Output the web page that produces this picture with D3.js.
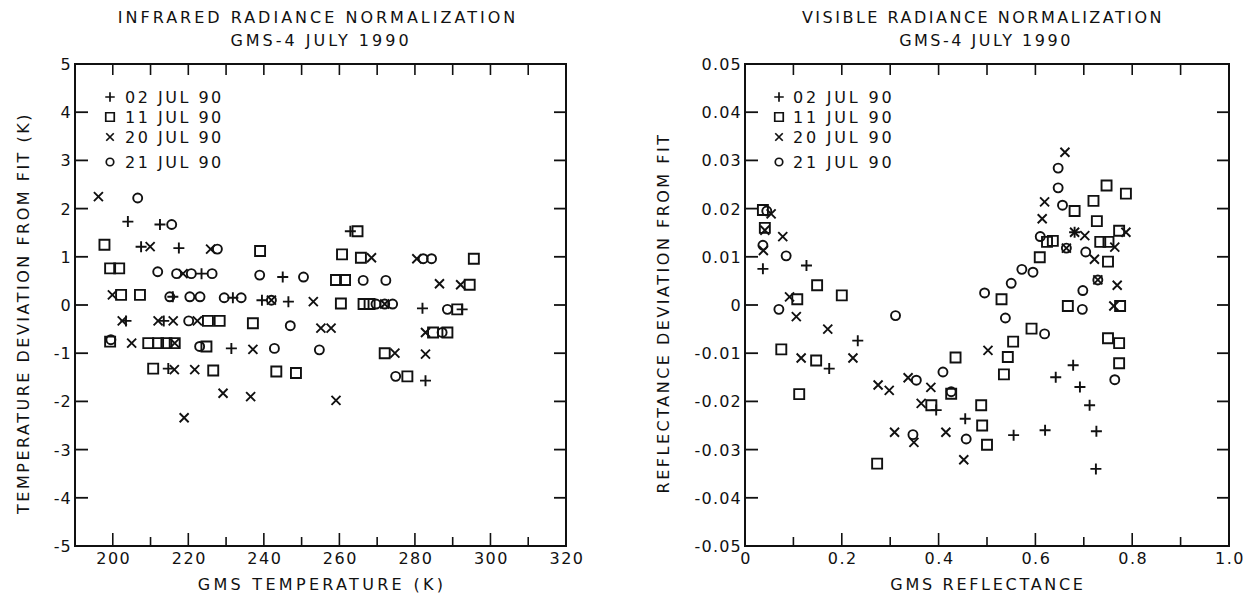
<!DOCTYPE html>
<html>
<head>
<meta charset="utf-8">
<script src="https://cdn.jsdelivr.net/npm/d3@7"></script>
<style>
  body { margin: 0; background: #fff; }
  svg text { font-family: "DejaVu Sans", sans-serif; fill: #111; }
</style>
</head>
<body>
<svg id="chart" width="1244" height="596"></svg>
<script>
// legend entries and their marker
var dates = ['02 JUL 90', '11 JUL 90', '20 JUL 90', '21 JUL 90']
var markers = ['plus', 'square', 'cross', 'circle']

// infrared: [GMS temperature (K), temperature deviation from fit (K)]
var ir_02jul = [[204.0,1.73],[212.5,1.67],[207.5,1.21],[217.5,1.18],[223.5,0.65],[215.9,0.17],[231.8,0.15],
  [239.5,0.10],[246.5,0.07],[203.5,-0.33],[213.5,-0.33],[231.4,-0.90],[214.7,-1.32],[245.0,0.58],
  [262.9,1.53],[282.0,-0.07],[292.5,-0.09],[282.8,-1.57]]
var ir_11jul = [[197.8,1.25],[239.0,1.12],[199.3,0.76],[201.7,0.76],[202.2,0.21],[207.2,0.21],[225.2,-0.33],
  [228.3,-0.33],[237.1,-0.38],[199.3,-0.76],[209.4,-0.79],[212.0,-0.79],[214.2,-0.79],[216.4,-0.79],
  [224.8,-0.86],[210.7,-1.32],[226.6,-1.36],[264.8,1.53],[260.7,1.05],[265.7,0.98],[259.1,0.52],
  [261.5,0.52],[260.4,0.03],[266.4,0.02],[268.0,0.02],[272.0,-1.00],[243.3,-1.38],[248.5,-1.41],
  [278.0,-1.48],[295.6,0.96],[294.5,0.42],[291.2,-0.09],[284.8,-0.57],[288.6,-0.57]]
var ir_20jul = [[196.2,2.25],[209.9,1.21],[225.9,1.16],[218.6,0.65],[199.9,0.21],[242.0,0.10],[202.5,-0.33],
  [212.0,-0.33],[216.0,-0.33],[222.4,-0.33],[205.0,-0.79],[216.4,-0.79],[237.1,-0.92],[216.3,-1.34],
  [221.7,-1.34],[229.2,-1.83],[236.5,-1.90],[218.9,-2.34],[268.5,0.98],[253.1,0.07],[272.0,0.02],
  [255.1,-0.48],[257.8,-0.48],[274.7,-1.00],[259.1,-1.98],[280.5,0.96],[286.5,0.44],[292.1,0.42],
  [282.8,-0.57],[282.8,-1.02]]
var ir_21jul = [[206.6,2.22],[215.6,1.67],[227.7,1.16],[211.9,0.69],[216.9,0.65],[220.8,0.65],[226.3,0.65],
  [238.9,0.62],[215.1,0.17],[220.4,0.17],[223.1,0.17],[229.5,0.15],[234.0,0.15],[242.0,0.10],
  [220.1,-0.33],[199.5,-0.72],[223.0,-0.86],[242.8,-0.90],[250.5,0.58],[266.3,0.51],[272.3,0.51],
  [269.7,0.02],[272.0,0.02],[274.1,0.02],[247.0,-0.43],[254.7,-0.93],[274.9,-1.48],[282.2,0.96],
  [284.4,0.96],[288.6,-0.09],[287.2,-0.57]]

// visible: [GMS reflectance, reflectance deviation from fit]
var vis_02jul = [[0.037,0.0075],[0.127,0.0082],[0.233,-0.0074],[0.174,-0.0132],[0.395,-0.0218],
  [0.455,-0.0236],[0.678,-0.0125],[0.642,-0.0150],[0.692,-0.0170],[0.712,-0.0208],[0.726,-0.0262],
  [0.681,0.0151],[0.555,-0.0270],[0.620,-0.0260],[0.725,-0.0340]]
var vis_11jul = [[0.037,0.0197],[0.041,0.0160],[0.149,0.0041],[0.108,0.0012],[0.075,-0.0092],
  [0.147,-0.0115],[0.112,-0.0185],[0.200,0.0020],[0.435,-0.0109],[0.426,-0.0184],[0.385,-0.0208],
  [0.488,-0.0208],[0.490,-0.0250],[0.500,-0.0290],[0.273,-0.0329],[0.747,0.0248],[0.720,0.0216],
  [0.681,0.0195],[0.727,0.0174],[0.624,0.0131],[0.636,0.0133],[0.734,0.0131],[0.751,0.0131],
  [0.750,0.0090],[0.609,0.0099],[0.530,0.0012],[0.667,-0.0002],[0.592,-0.0049],[0.554,-0.0076],
  [0.750,-0.0069],[0.543,-0.0108],[0.535,-0.0144],[0.787,0.0231],[0.773,0.0154],[0.775,-0.0002],
  [0.773,-0.0079],[0.773,-0.0121]]
var vis_20jul = [[0.054,0.0189],[0.041,0.0155],[0.078,0.0142],[0.038,0.0113],[0.092,0.0017],
  [0.106,-0.0024],[0.116,-0.0110],[0.171,-0.0050],[0.223,-0.0110],[0.275,-0.0166],[0.298,-0.0177],
  [0.337,-0.0151],[0.384,-0.0171],[0.364,-0.0204],[0.309,-0.0264],[0.349,-0.0285],[0.415,-0.0264],
  [0.452,-0.0321],[0.661,0.0317],[0.619,0.0214],[0.614,0.0179],[0.681,0.0151],[0.702,0.0144],
  [0.664,0.0118],[0.722,0.0095],[0.729,0.0052],[0.502,-0.0094],[0.787,0.0151],[0.764,0.0120],
  [0.769,0.0041],[0.762,-0.0002]]
var vis_21jul = [[0.045,0.0195],[0.037,0.0124],[0.085,0.0102],[0.070,-0.0009],[0.311,-0.0022],
  [0.354,-0.0156],[0.409,-0.0139],[0.426,-0.0180],[0.347,-0.0269],[0.457,-0.0278],[0.647,0.0284],
  [0.647,0.0243],[0.656,0.0207],[0.610,0.0142],[0.664,0.0118],[0.704,0.0110],[0.572,0.0074],
  [0.595,0.0068],[0.550,0.0045],[0.495,0.0025],[0.729,0.0052],[0.698,0.0030],[0.697,-0.0009],
  [0.538,-0.0027],[0.619,-0.0060],[0.764,-0.0155]]

// ticks
var ir_x_labels = [200, 220, 240, 260, 280, 300, 320]
var ir_x_minor = [190, 200, 210, 220, 230, 240, 250, 260, 270, 280, 290, 300, 310, 320]
var ir_y_labels = [5, 4, 3, 2, 1, 0, -1, -2, -3, -4, -5]
var vis_x_labels = ['0', '0.2', '0.4', '0.6', '0.8', '1.0']
var vis_x_minor = [0, 0.1, 0.2, 0.3, 0.4, 0.5, 0.6, 0.7, 0.8, 0.9, 1.0]
var vis_y_labels = ['0.05', '0.04', '0.03', '0.02', '0.01', '0', '-0.01', '-0.02', '-0.03', '-0.04', '-0.05']

var svg = d3.select('#chart')

function markerPath(type, s) {
  var h = s / 2
  if (type == 'plus') return `M${-h},0H${h}M0,${-h}V${h}`
  if (type == 'cross') return `M${-h},${-h}L${h},${h}M${-h},${h}L${h},${-h}`
  if (type == 'square') return `M${-h},${-h}H${h}V${h}H${-h}Z`
  return `M${h},0A${h},${h} 0 1,1 ${-h},0A${h},${h} 0 1,1 ${h},0`
}
var markerSize = {plus: 11, cross: 9, square: 10, circle: 9}

function label(sel, size, spacing) {
  return sel.style('font-size', size + 'px').style('letter-spacing', spacing + 'px')
}

function renderPlot(p) {
  var x_scale = d3.scaleLinear().domain(p.xDomain).range([p.left, p.right])
  var y_scale = d3.scaleLinear().domain(p.yDomain).range([p.bottom, p.top])
  var g = svg.append('g')

  //titles
  label(g.append('text').attr('x', p.titleX).attr('y', 23).attr('text-anchor', 'middle'), 16, p.titleSpacing)
    .text(p.title)
  label(g.append('text').attr('x', p.titleX + 3).attr('y', 46).attr('text-anchor', 'middle'), 16, p.titleSpacing)
    .text('GMS-4 JULY 1990')

  //frame
  g.append('rect').attr('x', p.left).attr('y', p.top)
    .attr('width', p.right - p.left).attr('height', p.bottom - p.top)
    .attr('fill', 'none').attr('stroke', '#111').attr('stroke-width', 2)

  //x ticks top and bottom
  g.selectAll('.xt').data(p.xMinor).join('line').attr('class', 'xt')
    .attr('x1', d => x_scale(d)).attr('x2', d => x_scale(d))
    .attr('y1', p.bottom).attr('y2', (d, i) => p.bottom - (i % 2 == p.majorParity ? 13 : 9))
    .attr('stroke', '#111').attr('stroke-width', 1.6)
  g.selectAll('.xtt').data(p.xMinor).join('line').attr('class', 'xtt')
    .attr('x1', d => x_scale(d)).attr('x2', d => x_scale(d))
    .attr('y1', p.top).attr('y2', p.top + 11)
    .attr('stroke', '#111').attr('stroke-width', 1.6)

  //y ticks left and right
  var yTickVals = d3.range(p.yLabels.length).map(i => p.yDomain[1] - i * (p.yDomain[1] - p.yDomain[0]) / (p.yLabels.length - 1))
  g.selectAll('.yt').data(yTickVals).join('line').attr('class', 'yt')
    .attr('x1', p.left).attr('x2', p.left + 13)
    .attr('y1', d => y_scale(d)).attr('y2', d => y_scale(d))
    .attr('stroke', '#111').attr('stroke-width', 1.8)
  g.selectAll('.ytr').data(yTickVals).join('line').attr('class', 'ytr')
    .attr('x1', p.right).attr('x2', p.right - 12)
    .attr('y1', d => y_scale(d)).attr('y2', d => y_scale(d))
    .attr('stroke', '#111').attr('stroke-width', 1.8)

  //tick labels
  label(g.selectAll('.yl').data(p.yLabels).join('text').attr('class', 'yl')
    .attr('x', p.left - 3).attr('y', (d, i) => y_scale(yTickVals[i]) + 6)
    .attr('text-anchor', 'end'), 16, 1.2).text(d => d)
  label(g.selectAll('.xl').data(p.xLabels).join('text').attr('class', 'xl')
    .attr('x', (d, i) => x_scale(p.xLabelVals[i]) + 1).attr('y', p.bottom + 18)
    .attr('text-anchor', 'middle'), 16, 1.5).text(d => d)

  //axis titles
  label(g.append('text').attr('x', p.xTitleX).attr('y', 590).attr('text-anchor', 'middle'), 16, p.xTitleSpacing)
    .text(p.xTitle)
  label(g.append('text').attr('transform', `translate(${p.yTitleX},${(p.top + p.bottom) / 2 + 8}) rotate(-90)`)
    .attr('text-anchor', 'middle'), 16, 2.5).text(p.yTitle)

  //points
  p.series.forEach((data, k) => {
    g.selectAll('.pt' + k).data(data).join('path').attr('class', 'pt' + k)
      .attr('transform', d => `translate(${x_scale(d[0])},${y_scale(d[1])})`)
      .attr('d', markerPath(markers[k], markerSize[markers[k]]))
      .attr('fill', 'none').attr('stroke', '#111').attr('stroke-width', 1.9)
  })

  //legend
  var legend = g.selectAll('.legend').data(dates).join('g').attr('class', 'legend')
    .attr('transform', (d, i) => `translate(${p.left + p.legendDx}, ${97 + i * 20 + (i == 3 ? 5 : 0)})`)
  legend.append('path').attr('d', (d, i) => markerPath(markers[i], markerSize[markers[i]] - 1.5))
    .attr('fill', 'none').attr('stroke', '#111').attr('stroke-width', 1.7)
  label(legend.append('text').attr('x', p.legendText).attr('y', 6), 16, p.legendSpacing).text(d => d)
}

renderPlot({
  left: 75, right: 566, top: 64, bottom: 546,
  xDomain: [190, 320], yDomain: [-5, 5],
  xMinor: ir_x_minor, majorParity: 1,
  xLabels: ir_x_labels, xLabelVals: ir_x_labels,
  yLabels: ir_y_labels,
  title: 'INFRARED RADIANCE NORMALIZATION', titleX: 318, titleSpacing: 3.0,
  xTitle: 'GMS TEMPERATURE (K)', xTitleX: 322, xTitleSpacing: 3.3,
  yTitle: 'TEMPERATURE DEVIATION FROM FIT (K)', yTitleX: 29,
  legendDx: 35, legendText: 15, legendSpacing: 2.5,
  series: [ir_02jul, ir_11jul, ir_20jul, ir_21jul]
})

renderPlot({
  left: 745, right: 1229, top: 64, bottom: 546,
  xDomain: [0, 1], yDomain: [-0.05, 0.05],
  xMinor: vis_x_minor, majorParity: 0,
  xLabels: vis_x_labels, xLabelVals: vis_x_labels.map(Number),
  yLabels: vis_y_labels,
  title: 'VISIBLE RADIANCE NORMALIZATION', titleX: 983, titleSpacing: 2.5,
  xTitle: 'GMS REFLECTANCE', xTitleX: 988, xTitleSpacing: 2.7,
  yTitle: 'REFLECTANCE DEVIATION FROM FIT', yTitleX: 669,
  legendDx: 34, legendText: 14, legendSpacing: 2.8,
  series: [vis_02jul, vis_11jul, vis_20jul, vis_21jul]
})
</script>
</body>
</html>
